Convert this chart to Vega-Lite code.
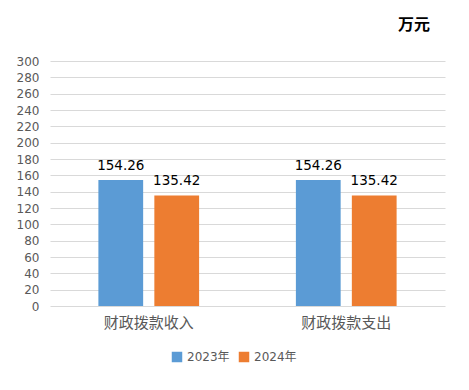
{
  "$schema": "https://vega.github.io/schema/vega-lite/v6.json",
  "autosize": "none",
  "width": 395,
  "height": 245,
  "padding": {"left": 50, "top": 61, "right": 24, "bottom": 84},
  "background": "white",
  "config": {"view": {"stroke": null}, "font": "DejaVu Sans, Noto Sans CJK SC"},
  "title": {"text": "万元", "anchor": "end", "dx": -15, "offset": 22, "fontSize": 16, "fontWeight": "bold", "color": "#000000", "font": "Noto Sans CJK SC"},
  "data": {"values": [
    {"category": "财政拨款收入", "year": "2023年", "value": 154.26},
    {"category": "财政拨款收入", "year": "2024年", "value": 135.42},
    {"category": "财政拨款支出", "year": "2023年", "value": 154.26},
    {"category": "财政拨款支出", "year": "2024年", "value": 135.42}
  ]},
  "encoding": {
    "x": {"field": "category", "type": "nominal", "sort": null,
      "scale": {"paddingInner": 0.49, "paddingOuter": 0.245},
      "axis": {"title": null, "labelAngle": 0, "domain": false, "ticks": false, "labelPadding": 9, "labelFontSize": 15, "labelColor": "#595959", "labelFont": "Noto Sans CJK SC"}},
    "xOffset": {"field": "year", "type": "nominal", "scale": {"paddingInner": 0.2, "paddingOuter": 0}},
    "y": {"field": "value", "type": "quantitative",
      "scale": {"domain": [0, 300]},
      "axis": {"title": null, "values": [0,20,40,60,80,100,120,140,160,180,200,220,240,260,280,300], "domain": false, "ticks": false, "labelPadding": 11, "labelFontSize": 12, "labelColor": "#595959", "gridColor": "#d9d9d9"}}
  },
  "layer": [
    {"mark": {"type": "bar"},
     "encoding": {"color": {"field": "year", "type": "nominal",
       "scale": {"domain": ["2023年", "2024年"], "range": ["#5B9BD5", "#ED7D31"]},
       "legend": {"title": null, "orient": "none", "legendX": 121, "legendY": 290, "direction": "horizontal", "symbolType": "square", "symbolSize": 110, "symbolStrokeWidth": 0, "labelFontSize": 12, "labelColor": "#595959", "columnPadding": 8, "labelOffset": 4}}}},
    {"mark": {"type": "text", "baseline": "bottom", "dy": -7, "fontSize": 13.5, "color": "#000000"},
     "encoding": {"text": {"field": "value", "type": "quantitative", "format": ".2f"}}}
  ]
}
